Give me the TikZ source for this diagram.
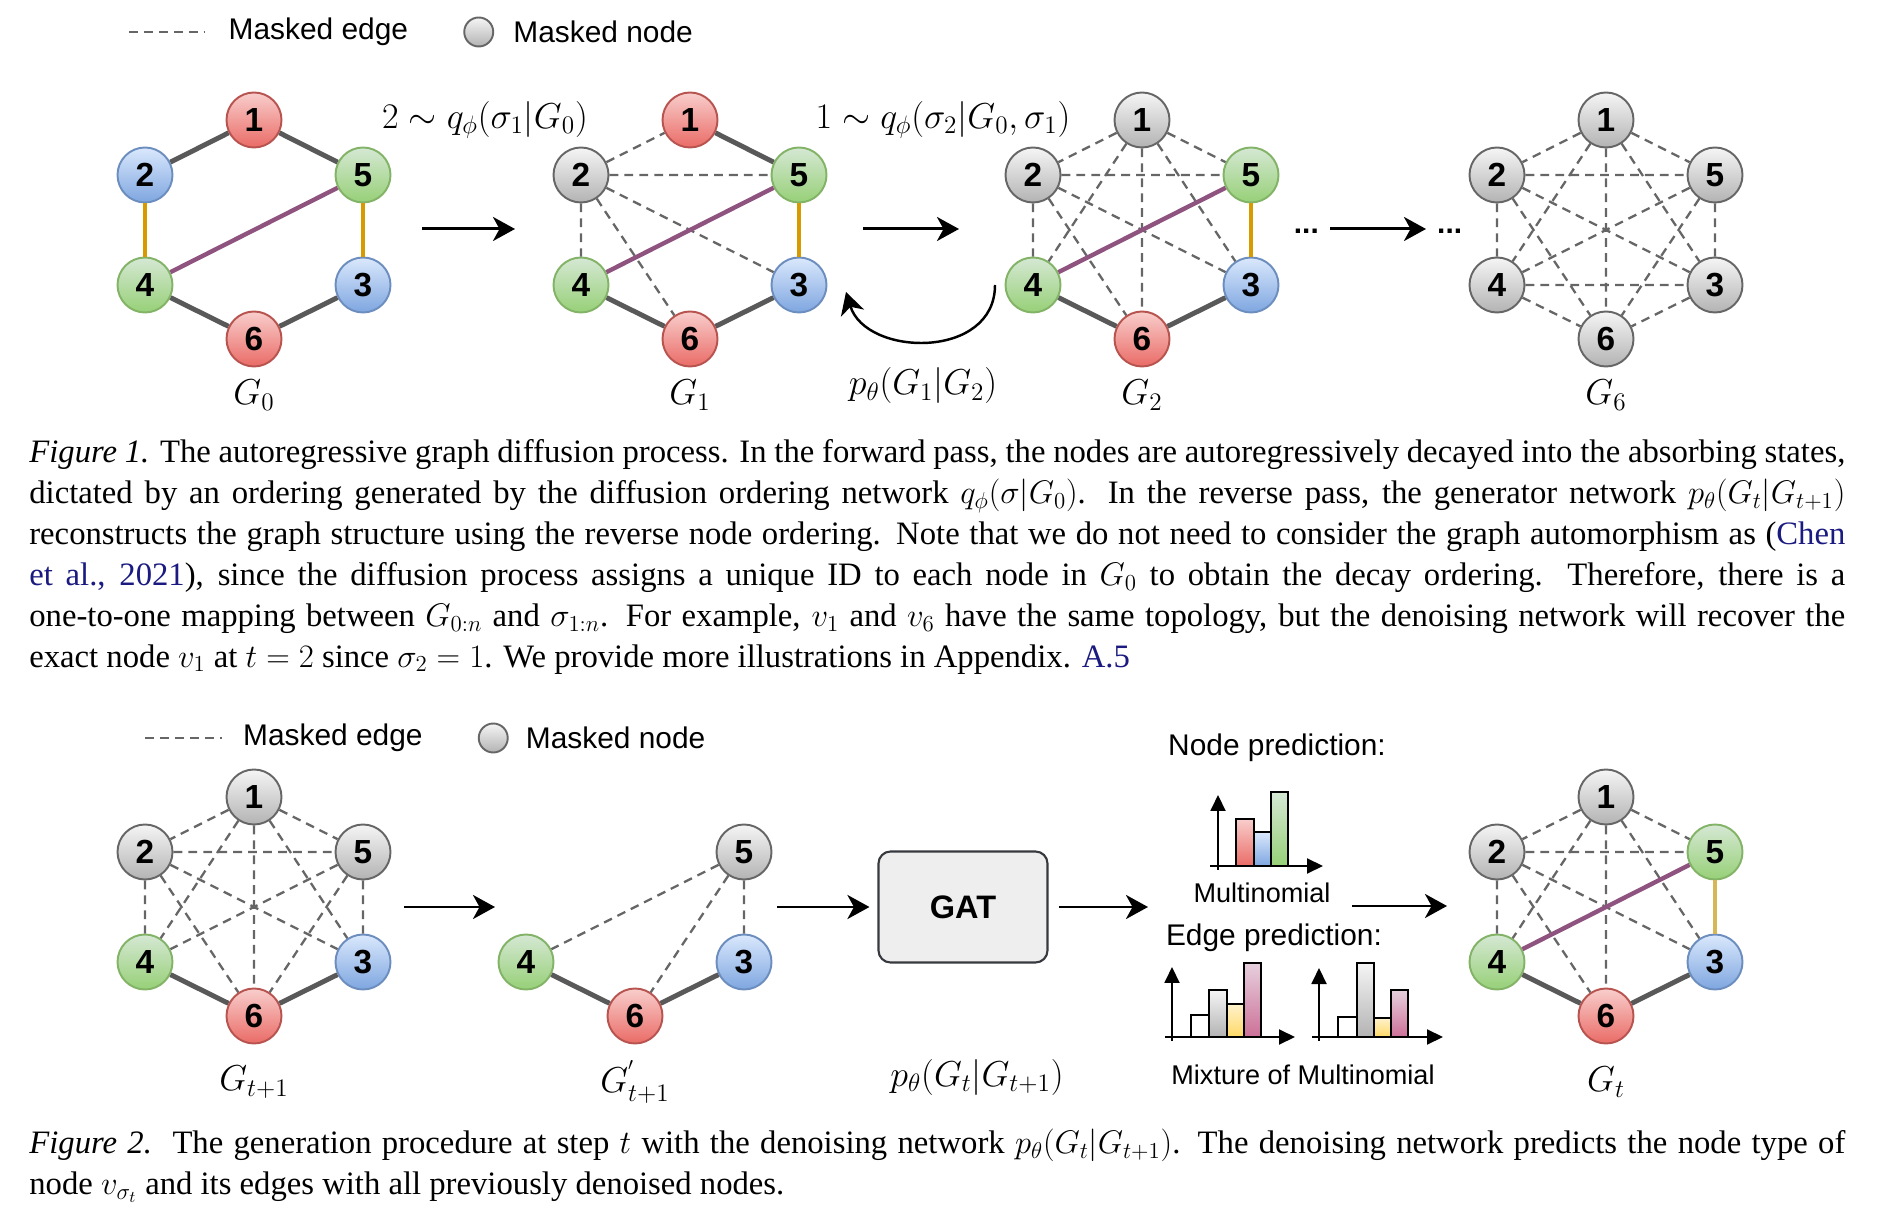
\RequirePackage{fix-cm}
\documentclass[tikz,border=0pt]{standalone}
\usepackage{fontspec}
\setmainfont{Liberation Serif}
\newfontfamily\drawio{Liberation Sans}
\usetikzlibrary{shapes, arrows.meta, positioning, calc}

\definecolor{redfill}{HTML}{F8CECC}
\definecolor{redgrad}{HTML}{EA6B66}
\definecolor{redline}{HTML}{B85450}
\definecolor{bluefill}{HTML}{DAE8FC}
\definecolor{bluegrad}{HTML}{7EA6E0}
\definecolor{blueline}{HTML}{6C8EBF}
\definecolor{greenfill}{HTML}{D5E8D4}
\definecolor{greengrad}{HTML}{97D077}
\definecolor{greenline}{HTML}{82B366}
\definecolor{grayfill}{HTML}{F5F5F5}
\definecolor{graygrad}{HTML}{B3B3B3}
\definecolor{grayline}{HTML}{666666}
\definecolor{yellowfill}{HTML}{FFF2CC}
\definecolor{yellowgrad}{HTML}{FFD966}
\definecolor{pinkfill}{HTML}{E6D0DE}
\definecolor{pinkgrad}{HTML}{CD7097}
\definecolor{edgegray}{HTML}{595959}
\definecolor{edgepurple}{HTML}{8F5380}
\definecolor{edgeorange}{HTML}{D79B00}
\definecolor{edgegold}{HTML}{D6B656}
\definecolor{gatfill}{HTML}{EEEEEE}
\definecolor{gatline}{HTML}{36393D}
\definecolor{citeblue}{HTML}{1A1A80}

\begin{document}
\begin{tikzpicture}[
    gnode/.style  ={circle, draw, line width=1.1pt, minimum size=1.1cm, inner sep=0pt, font=\drawio\bfseries\fontsize{19}{19}\selectfont},
    rnode/.style  ={gnode, draw=redline, top color=redfill, bottom color=redgrad},
    bnode/.style  ={gnode, draw=blueline, top color=bluefill, bottom color=bluegrad},
    grnode/.style ={gnode, draw=greenline, top color=greenfill, bottom color=greengrad},
    mnode/.style  ={gnode, draw=grayline, top color=grayfill, bottom color=graygrad}, % masked node
    link/.style   ={draw=edgegray, line width=2.8pt},
    mlink/.style  ={draw=grayline, line width=1.3pt, dash pattern=on 5pt off 3.5pt}, % masked edge
    plink/.style  ={draw=edgepurple, line width=2.5pt},
    olink/.style  ={draw=edgeorange, line width=2pt},
    ylink/.style  ={draw=edgegold, line width=2pt},
    lbl/.style    ={font=\drawio\fontsize{17}{20}\selectfont},
    slbl/.style   ={font=\drawio\fontsize{15.4}{18}\selectfont},
    mlbl/.style   ={font=\fontsize{20.5}{24}\selectfont},
    gat/.style    ={rectangle, draw=gatline, fill=gatfill, line width=1.2pt, rounded corners=0.24cm, minimum width=3.38cm, minimum height=2.22cm, font=\drawio\bfseries\fontsize{18.5}{20}\selectfont},
    arrow/.style  ={-{Stealth[length=4.4mm, width=4.8mm, inset=1.3mm]}, line width=1.7pt},
    axis/.style   ={-{Triangle[length=3.2mm, width=3mm]}, line width=1.1pt},
    bar/.style    ={draw=black, line width=1.1pt},
    caption/.style={anchor=north west, inner sep=0pt, text width=36.32cm, align=justify, font=\fontsize{18.6}{23.3}\selectfont},
    ]
    \useasboundingbox (0,0) rectangle (37.58,24.5);

    % --- Legend (Figure 1) ---
    \coordinate (leg1_a) at (2.58,23.86);
    \coordinate (leg1_b) at (4.08,23.86);
    \draw[mlink] (leg1_a) -- (leg1_b);
    \node[lbl, right=0.37cm of leg1_b] (leg1_edge) {Masked edge};
    \node[mnode, minimum size=0.58cm, right=0.98cm of leg1_edge] (leg1_dot) {};
    \node[lbl, right=0.26cm of leg1_dot] (leg1_node) {Masked node};

    % --- G_0 ---
    \coordinate (c0) at (5.08,19.9);
    \node[rnode]  (g0_1) at ($(c0)+(0,2.2)$)      {1};
    \node[bnode]  (g0_2) at ($(c0)+(-2.18,1.1)$)  {2};
    \node[grnode] (g0_5) at ($(c0)+(2.18,1.1)$)   {5};
    \node[grnode] (g0_4) at ($(c0)+(-2.18,-1.1)$) {4};
    \node[bnode]  (g0_3) at ($(c0)+(2.18,-1.1)$)  {3};
    \node[rnode]  (g0_6) at ($(c0)+(0,-2.18)$)    {6};
    \node[mlbl] (g0_lbl) at ($(c0)+(0,-3.3)$) {$G_0$};
    \draw[link]  (g0_1) -- (g0_2) (g0_1) -- (g0_5) (g0_4) -- (g0_6) (g0_6) -- (g0_3);
    \draw[olink] (g0_2) -- (g0_4) (g0_5) -- (g0_3);
    \draw[plink] (g0_4) -- (g0_5);

    % --- G_1 ---
    \coordinate (c1) at (13.8,19.9);
    \node[rnode]  (g1_1) at ($(c1)+(0,2.2)$)      {1};
    \node[mnode]  (g1_2) at ($(c1)+(-2.18,1.1)$)  {2};
    \node[grnode] (g1_5) at ($(c1)+(2.18,1.1)$)   {5};
    \node[grnode] (g1_4) at ($(c1)+(-2.18,-1.1)$) {4};
    \node[bnode]  (g1_3) at ($(c1)+(2.18,-1.1)$)  {3};
    \node[rnode]  (g1_6) at ($(c1)+(0,-2.18)$)    {6};
    \node[mlbl] (g1_lbl) at ($(c1)+(0,-3.3)$) {$G_1$};
    \draw[mlink] (g1_2) -- (g1_1) (g1_2) -- (g1_5) (g1_2) -- (g1_4) (g1_2) -- (g1_6) (g1_2) -- (g1_3);
    \draw[link]  (g1_1) -- (g1_5) (g1_4) -- (g1_6) (g1_6) -- (g1_3);
    \draw[olink] (g1_5) -- (g1_3);
    \draw[plink] (g1_4) -- (g1_5);

    % --- G_2 ---
    \coordinate (c2) at (22.84,19.9);
    \node[mnode]  (g2_1) at ($(c2)+(0,2.2)$)      {1};
    \node[mnode]  (g2_2) at ($(c2)+(-2.18,1.1)$)  {2};
    \node[grnode] (g2_5) at ($(c2)+(2.18,1.1)$)   {5};
    \node[grnode] (g2_4) at ($(c2)+(-2.18,-1.1)$) {4};
    \node[bnode]  (g2_3) at ($(c2)+(2.18,-1.1)$)  {3};
    \node[rnode]  (g2_6) at ($(c2)+(0,-2.18)$)    {6};
    \node[mlbl] (g2_lbl) at ($(c2)+(0,-3.3)$) {$G_2$};
    \draw[mlink] (g2_1) -- (g2_2) (g2_1) -- (g2_5) (g2_1) -- (g2_4) (g2_1) -- (g2_3) (g2_1) -- (g2_6)
                 (g2_2) -- (g2_5) (g2_2) -- (g2_4) (g2_2) -- (g2_3) (g2_2) -- (g2_6);
    \draw[link]  (g2_4) -- (g2_6) (g2_6) -- (g2_3);
    \draw[olink] (g2_5) -- (g2_3);
    \draw[plink] (g2_4) -- (g2_5);

    % --- G_6 ---
    \coordinate (c6) at (32.12,19.9);
    \node[mnode] (g6_1) at ($(c6)+(0,2.2)$)      {1};
    \node[mnode] (g6_2) at ($(c6)+(-2.18,1.1)$)  {2};
    \node[mnode] (g6_5) at ($(c6)+(2.18,1.1)$)   {5};
    \node[mnode] (g6_4) at ($(c6)+(-2.18,-1.1)$) {4};
    \node[mnode] (g6_3) at ($(c6)+(2.18,-1.1)$)  {3};
    \node[mnode] (g6_6) at ($(c6)+(0,-2.18)$)    {6};
    \node[mlbl] (g6_lbl) at ($(c6)+(0,-3.3)$) {$G_6$};
    \draw[mlink] (g6_1) -- (g6_2) (g6_1) -- (g6_5) (g6_1) -- (g6_4) (g6_1) -- (g6_3) (g6_1) -- (g6_6)
                 (g6_2) -- (g6_5) (g6_2) -- (g6_4) (g6_2) -- (g6_3) (g6_2) -- (g6_6)
                 (g6_5) -- (g6_4) (g6_5) -- (g6_3) (g6_5) -- (g6_6)
                 (g6_4) -- (g6_3) (g6_4) -- (g6_6) (g6_3) -- (g6_6);

    % --- Forward / reverse steps ---
    \coordinate (g0_out) at (8.44,19.92);
    \coordinate (g1_in)  at (10.3,19.92);
    \coordinate (g1_out) at (17.26,19.92);
    \coordinate (g2_in)  at (19.18,19.92);
    \coordinate (g2_out) at (26.6,19.92);
    \coordinate (g6_in)  at (28.52,19.92);
    \draw[arrow] (g0_out) -- (g1_in);
    \draw[arrow] (g1_out) -- (g2_in);
    \draw[arrow] (g2_out) -- (g6_in);
    \node[lbl, font=\drawio\bfseries\fontsize{17}{20}\selectfont, anchor=base east] (dots_l) at ($(g2_out)+(-0.1,-0.1)$) {...};
    \node[lbl, font=\drawio\bfseries\fontsize{17}{20}\selectfont, anchor=base west] (dots_r) at ($(g6_in)+(0.1,-0.1)$) {...};
    \node[mlbl] (fwd1) at (9.7,22.1) {$2\sim q_\phi(\sigma_1|G_0)$};
    \node[mlbl] (fwd2) at (18.86,22.1) {$1\sim q_\phi(\sigma_2|G_0,\sigma_1)$};

    \coordinate (back_from) at (19.9,18.8);
    \coordinate (back_to)   at (16.92,18.66);
    \draw[arrow, line width=1.4pt] (back_from) .. controls +(0,-1.5) and +(0.4,-1.3) .. (back_to);
    \node[mlbl] (rev) at (18.46,16.78) {$p_\theta(G_1|G_2)$};

    % --- Caption (Figure 1) ---
    \node[caption] (cap1) at (0.58,15.72) {\noindent\textit{Figure 1.} The autoregressive graph diffusion process. In the forward pass, the nodes are autoregressively decayed into the absorbing states,\linebreak
    dictated by an ordering generated by the diffusion ordering network $q_\phi(\sigma|G_0)$. In the reverse pass, the generator network $p_\theta(G_t|G_{t+1})$\linebreak
    reconstructs the graph structure using the reverse node ordering. Note that we do not need to consider the graph automorphism as ({\color{citeblue}Chen\linebreak
    et al., 2021}), since the diffusion process assigns a unique ID to each node in $G_0$ to obtain the decay ordering. Therefore, there is a\linebreak
    one-to-one mapping between $G_{0:n}$ and $\sigma_{1:n}$. For example, $v_1$ and $v_6$ have the same topology, but the denoising network will recover the\linebreak
    exact node $v_1$ at $t=2$ since $\sigma_2=1$. We provide more illustrations in Appendix. {\color{citeblue}A.5}};

    % --- Legend (Figure 2) ---
    \coordinate (leg2_a) at (2.9,9.74);
    \coordinate (leg2_b) at (4.44,9.74);
    \draw[mlink] (leg2_a) -- (leg2_b);
    \node[lbl, right=0.3cm of leg2_b] (leg2_edge) {Masked edge};
    \node[mnode, minimum size=0.58cm, right=0.98cm of leg2_edge] (leg2_dot) {};
    \node[lbl, right=0.22cm of leg2_dot] (leg2_node) {Masked node};

    % --- G_{t+1} ---
    \coordinate (ca) at (5.08,6.36);
    \node[mnode]  (ga_1) at ($(ca)+(0,2.2)$)      {1};
    \node[mnode]  (ga_2) at ($(ca)+(-2.18,1.1)$)  {2};
    \node[mnode]  (ga_5) at ($(ca)+(2.18,1.1)$)   {5};
    \node[grnode] (ga_4) at ($(ca)+(-2.18,-1.1)$) {4};
    \node[bnode]  (ga_3) at ($(ca)+(2.18,-1.1)$)  {3};
    \node[rnode]  (ga_6) at ($(ca)+(0,-2.18)$)    {6};
    \node[mlbl] (ga_lbl) at ($(ca)+(0,-3.5)$) {$G_{t+1}$};
    \draw[mlink] (ga_1) -- (ga_2) (ga_1) -- (ga_5) (ga_1) -- (ga_4) (ga_1) -- (ga_3) (ga_1) -- (ga_6)
                 (ga_2) -- (ga_5) (ga_2) -- (ga_4) (ga_2) -- (ga_3) (ga_2) -- (ga_6)
                 (ga_5) -- (ga_4) (ga_5) -- (ga_3) (ga_5) -- (ga_6);
    \draw[link]  (ga_4) -- (ga_6) (ga_6) -- (ga_3);

    % --- G'_{t+1} ---
    \coordinate (cb) at (12.7,6.36);
    \node[mnode]  (gb_5) at ($(cb)+(2.18,1.1)$)   {5};
    \node[grnode] (gb_4) at ($(cb)+(-2.18,-1.1)$) {4};
    \node[bnode]  (gb_3) at ($(cb)+(2.18,-1.1)$)  {3};
    \node[rnode]  (gb_6) at ($(cb)+(0,-2.18)$)    {6};
    \node[mlbl] (gb_lbl) at ($(cb)+(0,-3.5)$) {$G^{'}_{t+1}$};
    \draw[mlink] (gb_5) -- (gb_4) (gb_5) -- (gb_6) (gb_5) -- (gb_3);
    \draw[link]  (gb_4) -- (gb_6) (gb_6) -- (gb_3);

    % --- GAT ---
    \node[gat] (gat) at (19.26,6.36) {GAT};
    \node[mlbl] (gat_lbl) at (19.54,2.96) {$p_\theta(G_t|G_{t+1})$};

    % --- Predictions ---
    \node[lbl]  (node_pred) at (25.54,9.54) {Node prediction:};
    \node[slbl] (multi)     at (25.24,6.64) {Multinomial};
    \node[lbl]  (edge_pred) at (25.48,5.74) {Edge prediction:};
    \node[slbl] (mixture)   at (26.06,3.0)  {Mixture of Multinomial};

    \draw[bar, top color=redfill, bottom color=redgrad]       (24.72,7.18) rectangle (25.08,8.12);
    \draw[bar, top color=bluefill, bottom color=bluegrad]     (25.08,7.18) rectangle (25.42,7.86);
    \draw[bar, top color=greenfill, bottom color=greengrad]   (25.42,7.18) rectangle (25.76,8.66);
    \draw[axis] (24.36,7.1) -- (24.36,8.6);
    \draw[axis] (24.2,7.18) -- (26.46,7.18);

    \draw[bar, fill=white]                                    (23.82,3.76) rectangle (24.18,4.2);
    \draw[bar, top color=grayfill, bottom color=graygrad]     (24.18,3.76) rectangle (24.54,4.7);
    \draw[bar, top color=yellowfill, bottom color=yellowgrad] (24.54,3.76) rectangle (24.88,4.42);
    \draw[bar, top color=pinkfill, bottom color=pinkgrad]     (24.88,3.76) rectangle (25.22,5.24);
    \draw[axis] (23.44,3.68) -- (23.44,5.16);
    \draw[axis] (23.3,3.76) -- (25.9,3.76);

    \draw[bar, fill=white]                                    (26.76,3.76) rectangle (27.14,4.16);
    \draw[bar, top color=grayfill, bottom color=graygrad]     (27.14,3.76) rectangle (27.48,5.24);
    \draw[bar, top color=yellowfill, bottom color=yellowgrad] (27.48,3.76) rectangle (27.82,4.14);
    \draw[bar, top color=pinkfill, bottom color=pinkgrad]     (27.82,3.76) rectangle (28.16,4.7);
    \draw[axis] (26.38,3.68) -- (26.38,5.14);
    \draw[axis] (26.24,3.76) -- (28.86,3.76);

    % --- G_t ---
    \coordinate (cc) at (32.12,6.36);
    \node[mnode]  (gc_1) at ($(cc)+(0,2.2)$)      {1};
    \node[mnode]  (gc_2) at ($(cc)+(-2.18,1.1)$)  {2};
    \node[grnode] (gc_5) at ($(cc)+(2.18,1.1)$)   {5};
    \node[grnode] (gc_4) at ($(cc)+(-2.18,-1.1)$) {4};
    \node[bnode]  (gc_3) at ($(cc)+(2.18,-1.1)$)  {3};
    \node[rnode]  (gc_6) at ($(cc)+(0,-2.18)$)    {6};
    \node[mlbl] (gc_lbl) at ($(cc)+(0,-3.5)$) {$G_t$};
    \draw[mlink] (gc_1) -- (gc_2) (gc_1) -- (gc_5) (gc_1) -- (gc_4) (gc_1) -- (gc_3) (gc_1) -- (gc_6)
                 (gc_2) -- (gc_5) (gc_2) -- (gc_4) (gc_2) -- (gc_3) (gc_2) -- (gc_6);
    \draw[link]  (gc_4) -- (gc_6) (gc_6) -- (gc_3);
    \draw[ylink] (gc_5) -- (gc_3);
    \draw[plink] (gc_4) -- (gc_5);

    % --- Generation steps ---
    \coordinate (ga_out) at (8.08,6.36);
    \coordinate (gb_in)  at (9.9,6.36);
    \coordinate (gb_out) at (15.54,6.36);
    \coordinate (pred_in)  at (22.96,6.36);
    \coordinate (pred_out) at (27.04,6.38);
    \coordinate (gc_in)    at (28.94,6.38);
    \draw[arrow] (ga_out) -- (gb_in);
    \draw[arrow] (gb_out) -- ([xshift=-0.16cm]gat.west);
    \draw[arrow] ([xshift=0.2cm]gat.east) -- (pred_in);
    \draw[arrow] (pred_out) -- (gc_in);

    % --- Caption (Figure 2) ---
    \node[caption] (cap2) at (0.58,1.93) {\noindent\textit{Figure 2.}\ \ The generation procedure at step $t$ with the denoising network $p_\theta(G_t|G_{t+1})$. The denoising network predicts the node type of\linebreak
    node $v_{\sigma_t}$ and its edges with all previously denoised nodes.};

\end{tikzpicture}
\end{document}
